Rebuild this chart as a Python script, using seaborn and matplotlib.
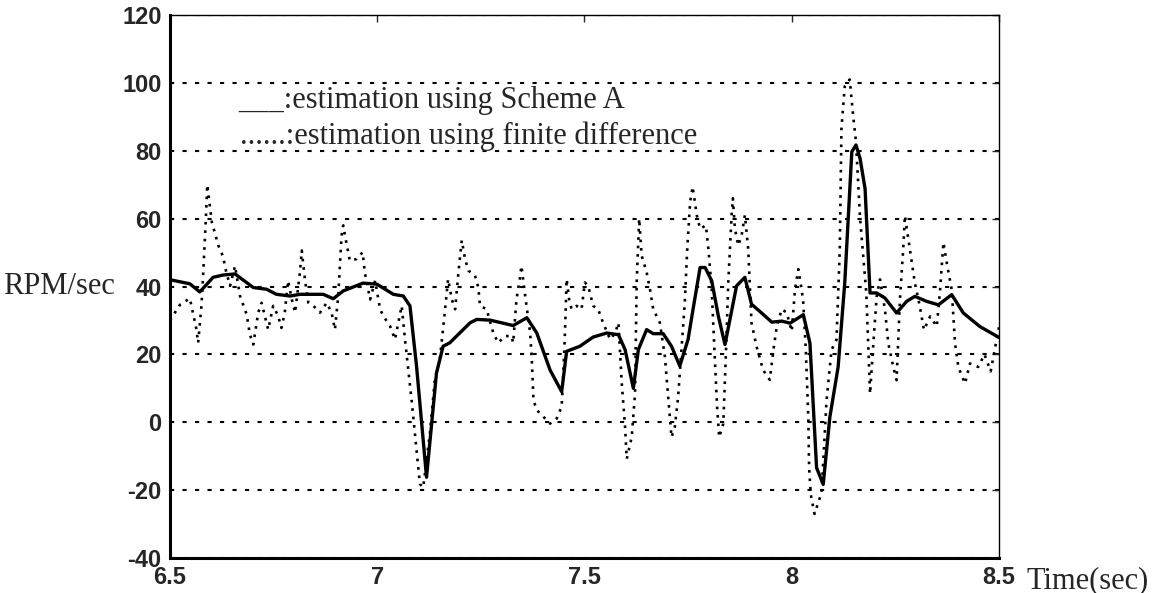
import numpy as np
import pandas as pd
import seaborn as sns
import matplotlib.pyplot as plt

# estimation using Scheme A (solid line)
t_scheme = [6.5, 6.548, 6.572, 6.604, 6.629, 6.657, 6.701, 6.733, 6.757, 6.790,
            6.814, 6.870, 6.894, 6.918, 6.966, 6.999, 7.039, 7.063, 7.079, 7.095,
            7.119, 7.143, 7.159, 7.175, 7.224, 7.240, 7.272, 7.328, 7.361, 7.385,
            7.417, 7.445, 7.457, 7.489, 7.521, 7.554, 7.582, 7.598, 7.618, 7.630,
            7.650, 7.666, 7.690, 7.710, 7.730, 7.750, 7.762, 7.779, 7.791, 7.807,
            7.823, 7.839, 7.851, 7.867, 7.887, 7.903, 7.931, 7.952, 7.976, 7.996,
            8.028, 8.044, 8.060, 8.076, 8.092, 8.112, 8.128, 8.145, 8.155, 8.165,
            8.177, 8.189, 8.205, 8.225, 8.253, 8.277, 8.297, 8.326, 8.354, 8.386,
            8.414, 8.454, 8.5]
rpm_scheme = [42, 40.8, 38.4, 42.7, 43.4, 43.7, 39.7, 39.2, 37.7, 37.2,
              37.7, 37.7, 36.4, 38.7, 41, 40.7, 37.7, 37.2, 34.3, 16.4,
              -16.2, 14.5, 22.4, 23.4, 29.3, 30.3, 30.1, 28.5, 30.8, 26.3,
              15.4, 9, 20.9, 22.4, 25.1, 26.3, 25.8, 21.4, 10, 21.4,
              27.3, 26.1, 26.1, 22.4, 16.6, 24.4, 33.3, 45.6, 45.6, 41.7,
              31.3, 22.9, 30.3, 40.2, 42.7, 34.8, 31.8, 29.5, 29.8, 29.2,
              31.7, 23.3, -13.4, -18.3, 1.5, 16.3, 41.1, 79.7, 81.7, 77.7,
              68.8, 38.1, 38.1, 36.6, 32.2, 35.6, 37.1, 35.6, 34.6, 37.6,
              32.2, 28.2, 25]

# estimation using finite difference (dotted line)
t_fd = [6.5, 6.524, 6.548, 6.564, 6.568, 6.576, 6.580, 6.587, 6.590, 6.601,
        6.617, 6.629, 6.633, 6.645, 6.657, 6.669, 6.685, 6.693, 6.701, 6.713,
        6.721, 6.729, 6.737, 6.749, 6.761, 6.769, 6.777, 6.785, 6.794, 6.802,
        6.814, 6.818, 6.826, 6.834, 6.846, 6.862, 6.878, 6.890, 6.898, 6.906,
        6.910, 6.914, 6.918, 6.926, 6.934, 6.950, 6.965, 6.970, 6.983, 6.995,
        7.007, 7.015, 7.031, 7.043, 7.051, 7.059, 7.067, 7.075, 7.083, 7.091,
        7.103, 7.111, 7.127, 7.139, 7.151, 7.163, 7.171, 7.180, 7.188, 7.196,
        7.204, 7.212, 7.220, 7.236, 7.244, 7.248, 7.264, 7.280, 7.292, 7.308,
        7.324, 7.328, 7.336, 7.344, 7.348, 7.356, 7.369, 7.373, 7.377, 7.385,
        7.401, 7.417, 7.433, 7.445, 7.449, 7.453, 7.457, 7.463, 7.469, 7.481,
        7.493, 7.501, 7.509, 7.521, 7.533, 7.545, 7.562, 7.574, 7.582, 7.590,
        7.598, 7.602, 7.614, 7.622, 7.626, 7.632, 7.638, 7.650, 7.658, 7.666,
        7.682, 7.694, 7.702, 7.710, 7.718, 7.726, 7.734, 7.742, 7.748, 7.755,
        7.761, 7.771, 7.779, 7.793, 7.799, 7.807, 7.815, 7.820, 7.825, 7.835,
        7.841, 7.847, 7.855, 7.858, 7.863, 7.871, 7.879, 7.887, 7.895, 7.903,
        7.915, 7.931, 7.947, 7.956, 7.964, 7.976, 7.988, 8.000, 8.008, 8.016,
        8.024, 8.028, 8.034, 8.040, 8.042, 8.046, 8.055, 8.072, 8.084, 8.096,
        8.108, 8.116, 8.120, 8.128, 8.140, 8.148, 8.155, 8.165, 8.180, 8.189,
        8.197, 8.205, 8.213, 8.225, 8.233, 8.245, 8.253, 8.261, 8.269, 8.273,
        8.285, 8.297, 8.309, 8.319, 8.334, 8.350, 8.358, 8.366, 8.374, 8.386,
        8.394, 8.402, 8.418, 8.430, 8.450, 8.465, 8.480, 8.5]
rpm_fd = [30, 34.6, 36.5, 27.3, 23.4, 34.3, 43.2, 61, 70, 59,
          52, 48.6, 45.6, 40.2, 46.1, 37.2, 31.8, 25.8, 22.9, 32.3,
          35.2, 31.3, 27.3, 34.3, 31.3, 27.8, 32.3, 41.7, 36.2, 32.3,
          44.7, 50.6, 41.7, 35.2, 34.3, 32.3, 35.2, 32.3, 27.3, 37.2,
          46.1, 55, 58, 52.6, 47.6, 48.1, 50.1, 44.2, 36.2, 41.7,
          33.3, 31.3, 28.3, 24.4, 29.3, 34.3, 24.4, 15.4, 6.5, -3.4,
          -18.2, -19.2, -3.4, 12.5, 18.4, 32.3, 42.2, 36.2, 33.3, 44.2,
          53.6, 48.1, 44.7, 43.2, 39.7, 34.3, 33.3, 26.3, 23.4, 25.4,
          25.4, 23.4, 36.2, 42.2, 46.1, 38.2, 26.3, 18.4, 6.5, 3.6,
          1.6, -0.4, 1.1, 4.6, 14.5, 26.3, 42.2, 36.2, 33.3, 34.3,
          33.3, 41.2, 40.2, 34.3, 33.3, 29.3, 24.4, 26.3, 29.3, 11.5,
          -1.4, -10.8, -4.4, 8.5, 41.2, 60, 49.1, 44.2, 39.2, 33.3,
          29.3, 19.4, 7.5, -4.4, -1.4, 7.5, 21.4, 35.2, 51.1, 65,
          69.4, 61, 57, 58, 51.1, 39.2, 17.4, 4.6, -4.4, -0.4,
          19.4, 41.2, 61, 66, 57, 52.1, 55, 61, 51.1, 29.3,
          22.4, 15.4, 12.5, 21.4, 28.3, 33.3, 32.3, 26.8, 39.2, 45.1,
          39.1, 35.1, 21.3, 1.5, -13.4, -21.3, -27, -20.8, 6.4, 21.3,
          24.3, 51, 86.6, 99, 101, 90.6, 82.7, 60, 38, 8.4,
          23.3, 37.1, 42.1, 33.2, 23.3, 16.3, 12.4, 36.1, 51, 60.9,
          51, 41.1, 34.2, 27.2, 31.2, 28.2, 39.1, 53, 47, 39.1,
          23.3, 16.3, 11.4, 17.3, 16.3, 20, 15, 28]

y_ticks = [-40, -20, 0, 20, 40, 60, 80, 100, 120]
x_ticks = [6.5, 7, 7.5, 8, 8.5]
x_tick_labels = ['6.5', '7', '7.5', '8', '8.5']

sns.set_style('white')
plt.rcParams['font.family'] = ['Liberation Sans', 'DejaVu Sans']
plt.rcParams['axes.unicode_minus'] = False
serif = ['Liberation Serif', 'DejaVu Serif']

fig = plt.figure(figsize=(11.53, 5.93), dpi=100)
ax = fig.add_axes([0.1474, 0.059, 0.719, 0.9157])

sns.lineplot(x=t_scheme, y=rpm_scheme, ax=ax, color='black', linewidth=2.4,
             sort=False, estimator=None)
sns.lineplot(x=t_fd, y=rpm_fd, ax=ax, color='black', linewidth=1.9,
             linestyle=(0, (1, 2.2)), sort=False, estimator=None)

ax.set_xlim(6.5, 8.5)
ax.set_ylim(-40, 120)
ax.set_xticks(x_ticks)
ax.set_xticklabels(x_tick_labels)
ax.set_yticks(y_ticks)
ax.tick_params(direction='in', length=5, width=1, top=True, right=True,
               labelsize=17, pad=6)
for lab in ax.get_xticklabels() + ax.get_yticklabels():
    lab.set_fontweight('bold')

ax.yaxis.grid(True, color='black', linestyle=(0, (2, 4)), linewidth=1.5)
ax.xaxis.grid(False)
for side in ['left', 'bottom']:
    ax.spines[side].set_linewidth(2.2)
for side in ['top', 'right']:
    ax.spines[side].set_linewidth(1.0)
for s in ax.spines.values():
    s.set_color('black')

ax.set_xlabel('')
ax.set_ylabel('RPM/sec', rotation=0, ha='right', va='center',
              fontsize=22, family=serif, labelpad=5)
ax.annotate('Time(sec)', xy=(1, 0), xycoords='axes fraction',
            xytext=(20, -6), textcoords='offset points', ha='left', va='top',
            fontsize=22, family=serif)

ax.text(6.664, 94.8, '___:estimation using Scheme A', fontsize=22,
        family=serif, va='center', ha='left')
ax.text(6.669, 84.2, '......:estimation using finite difference', fontsize=22,
        family=serif, va='center', ha='left')

fig.savefig('out.png', dpi=100)
